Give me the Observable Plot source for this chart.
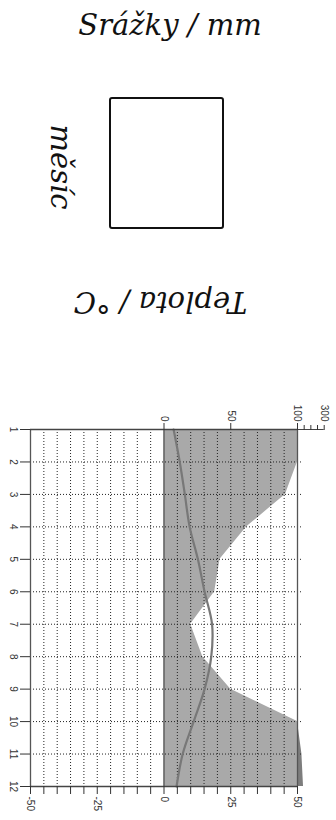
<!DOCTYPE html>
<html>
<head>
<meta charset="utf-8">
<script src="https://cdn.jsdelivr.net/npm/d3@7"></script>
<script src="https://cdn.jsdelivr.net/npm/@observablehq/plot@0.6"></script>
<style>
  html, body { margin: 0; padding: 0; background: #fff; }
  svg { display: block; }
</style>
</head>
<body>
<div id="legend"></div>
<div id="chart"></div>
<script>
// ---- data ----
const months = [1, 2, 3, 4, 5, 6, 7, 8, 9, 10, 11, 12];
const monthLabels = ["1", "2", "3", "4", "5", "6", "7", "8", "9", "10", "11", "12"];
const precipitation = [100, 100, 91, 62, 42, 38, 20, 29, 50, 100, 133, 145]; // mm
const temperature = [3.6, 5.9, 7.8, 9.6, 12.7, 15.2, 18.0, 17.7, 15.2, 11.1, 7.0, 4.7]; // °C
const tempTicks = [-50, -25, 0, 25, 50];
const tempTickLabels = ["-50", "-25", "0", "25", "50"];
const precipTicks = [0, 50, 100, 300];
const precipTickLabels = ["0", "50", "100", "300"];
const precipMinorTicks = [150, 200, 250, 300];
const legendTitleTop = "Srážky / mm";
const legendTitleLeft = "měsíc";
const legendTitleBottom = "Teplota / °C";

// precipitation -> temperature scale (Walter–Lieth: 2 mm per °C up to 100 mm, 20 mm per °C above)
const pToT = p => p <= 100 ? p / 2 : 50 + (p - 100) / 20;

const data = months.map((m, i) => ({ m, p: precipitation[i], t: temperature[i] }));

// ---- legend (above the chart) ----
const serif = "'DejaVu Serif', serif";
const lg = d3.select("#legend").append("svg").attr("width", 336).attr("height", 400);
lg.append("text").attr("x", 170).attr("y", 35).attr("text-anchor", "middle")
  .attr("font-family", serif).attr("font-style", "italic").attr("font-size", 29)
  .attr("fill", "#111").text(legendTitleTop);
lg.append("rect").attr("x", 110).attr("y", 98).attr("width", 113).attr("height", 130)
  .attr("rx", 2).attr("fill", "none").attr("stroke", "#111").attr("stroke-width", 2);
lg.append("text").attr("transform", "translate(61,167) rotate(90)").attr("text-anchor", "middle")
  .attr("dominant-baseline", "central")
  .attr("font-family", serif).attr("font-style", "italic").attr("font-size", 29)
  .attr("fill", "#111").text(legendTitleLeft);
lg.append("text").attr("transform", "translate(160.5,302) rotate(180)").attr("text-anchor", "middle")
  .attr("dominant-baseline", "central")
  .attr("font-family", serif).attr("font-style", "italic").attr("font-size", 29)
  .attr("fill", "#111").text(legendTitleBottom);

// ---- chart ----
const labelFont = "'Liberation Sans', Arial, sans-serif";
const chart = Plot.plot({
  width: 336,
  height: 420,
  marginTop: 29,
  marginBottom: 34,
  marginLeft: 30,
  marginRight: 39,
  style: { fontFamily: labelFont, fontSize: "10px", color: "#333", background: "#fff" },
  x: { domain: [-50, 50], axis: null },
  y: { domain: [1, 12], reverse: true, axis: null },
  marks: [
    // precipitation up to 100 mm
    Plot.areaX(data, { y: "m", x1: 0, x2: d => pToT(Math.min(d.p, 100)), fill: "#a9a9a9" }),
    // precipitation above 100 mm (compressed scale)
    Plot.areaX(data, { y: "m", x1: 50, x2: d => pToT(Math.max(d.p, 100)), fill: "#7d7d7d" }),
    // dotted grid
    Plot.ruleX(d3.range(-45, 50, 5).filter(v => v !== 0), { y1: 1, y2: 12, stroke: "#222", strokeDasharray: "1,2", strokeWidth: 1 }),
    Plot.ruleY(months.slice(1, 11), { x1: -50, x2: 52, stroke: "#222", strokeDasharray: "1,2", strokeWidth: 1 }),
    // temperature curve
    Plot.lineX(data, { x: "t", y: "m", curve: "catmull-rom", stroke: "#787878", strokeWidth: 2.2 }),
    // frame lines
    Plot.ruleX([-50, 0, 50], { y1: 1, y2: 12, stroke: "#555", strokeWidth: 1.3 }),
    Plot.ruleY([1, 12], { x1: -50, x2: 50, stroke: "#444", strokeWidth: 1.3 }),
    Plot.ruleY([1], { x1: 50, x2: pToT(300), stroke: "#444", strokeWidth: 1 }),
    // tick marks
    Plot.axisY({ anchor: "left", ticks: months, tickSize: 10, tickFormat: () => "", label: null, stroke: "#333" }),
    Plot.axisX({ anchor: "bottom", ticks: d3.range(-50, 55, 5), tickSize: 8, tickFormat: () => "", label: null, stroke: "#333" }),
    Plot.axisX({ anchor: "top", ticks: precipTicks.slice(0, 3).map(pToT), tickSize: 7, tickFormat: () => "", label: null, stroke: "#333" }),
    Plot.axisX({ anchor: "top", ticks: precipMinorTicks.map(pToT), tickSize: 5, tickFormat: () => "", label: null, stroke: "#333" }),
    // labels
    Plot.text(months, { x: -50, y: d => d, text: monthLabels, rotate: 90, dx: -17, textAnchor: "middle", lineAnchor: "middle", fill: "#333", fontSize: 10 }),
    Plot.text(tempTicks, { x: d => d, y: 12, text: tempTickLabels, rotate: 90, dy: 10, textAnchor: "start", lineAnchor: "middle", fill: "#333", fontSize: 10 }),
    Plot.text(precipTicks, { x: d => pToT(d), y: 1, text: precipTickLabels, rotate: 90, dy: -8, textAnchor: "end", lineAnchor: "middle", fill: "#333", fontSize: 10 })
  ]
});
document.getElementById("chart").appendChild(chart);
</script>
</body>
</html>
